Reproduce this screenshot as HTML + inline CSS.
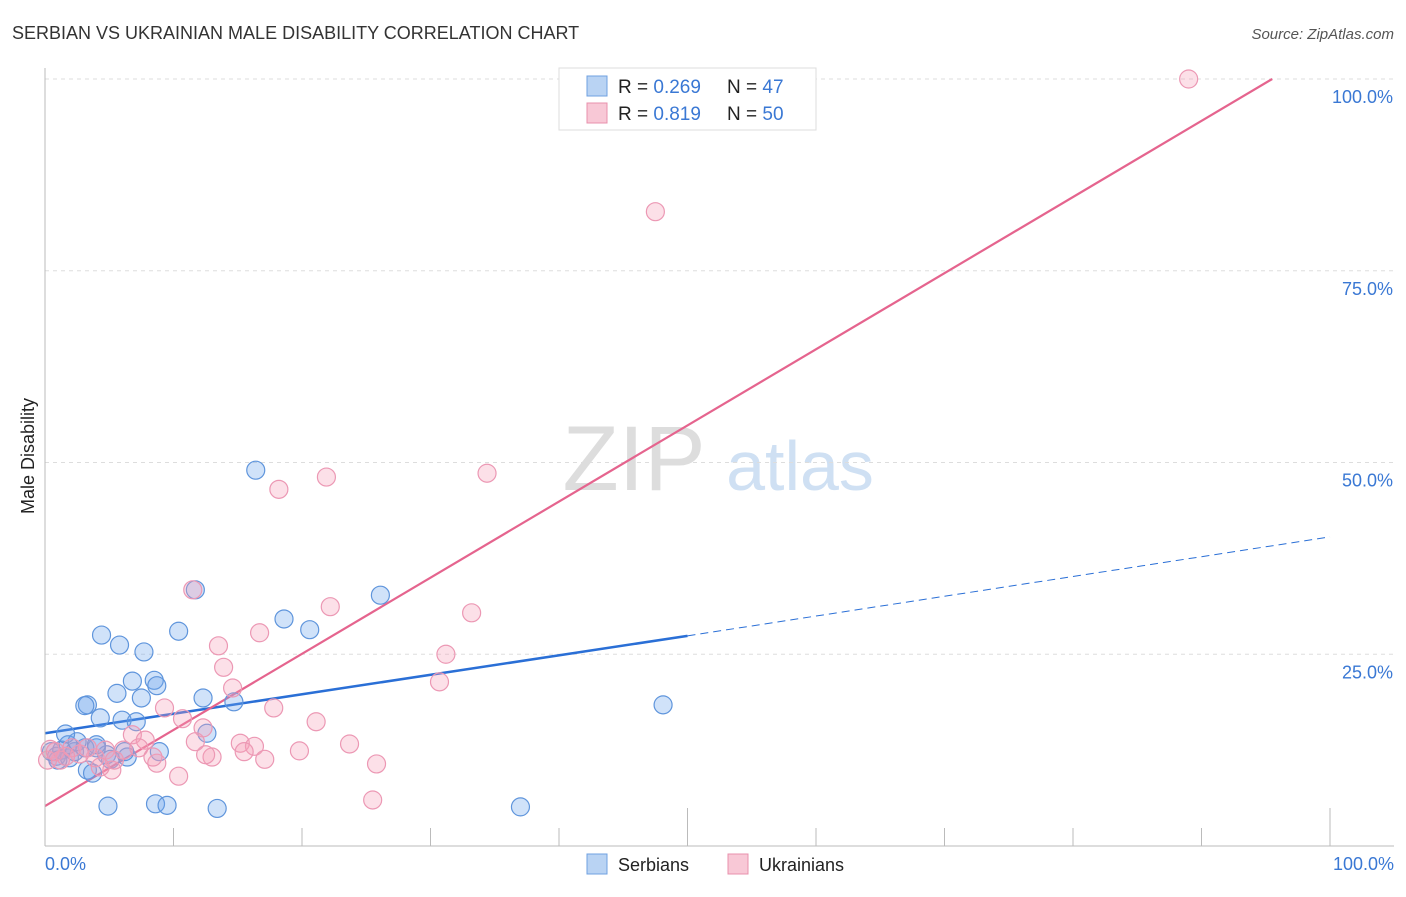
<!DOCTYPE html>
<html><head><meta charset="utf-8"><style>
body{margin:0;background:#fff;font-family:"Liberation Sans",sans-serif}
svg text{font-family:"Liberation Sans",sans-serif}
</style></head><body>
<svg id="c" width="1406" height="892" xmlns="http://www.w3.org/2000/svg">
<text x="12" y="39" font-size="18" fill="#333">SERBIAN VS UKRAINIAN MALE DISABILITY CORRELATION CHART</text>
<text x="1394" y="39" font-size="15" fill="#555" font-style="italic" text-anchor="end">Source: ZipAtlas.com</text>
<text x="34" y="456" font-size="18" fill="#222" transform="rotate(-90 34 456)" text-anchor="middle">Male Disability</text>
<g><text x="634" y="490" font-size="92" fill="#ddd" font-family="Liberation Serif" text-anchor="middle">ZIP</text><text x="800" y="490" font-size="70" fill="#cfe0f3" text-anchor="middle">atlas</text></g>
<g id="grid"></g><g id="ticks"></g><g id="lines"></g><g id="pts"></g>
<line x1="45" y1="68" x2="45" y2="846" stroke="#bbb"/>
<line x1="45" y1="846" x2="1394" y2="846" stroke="#bbb"/>
<text x="45" y="870" font-size="18" fill="#3a78d4">0.0%</text>
<text x="1394" y="870" font-size="18" fill="#3a78d4" text-anchor="end">100.0%</text>
<g>
<rect x="559" y="68" width="257" height="62" fill="#fff" stroke="#ddd"/>
<rect x="587" y="76" width="20" height="20" fill="#b9d3f3" stroke="#6fa0e0"/>
<rect x="587" y="103" width="20" height="20" fill="#f8c8d6" stroke="#e890ac"/>
<text x="618" y="93" font-size="19" fill="#222">R = <tspan fill="#3a78d4">0.269</tspan><tspan x="727">N = </tspan><tspan fill="#3a78d4">47</tspan></text>
<text x="618" y="120" font-size="19" fill="#222">R = <tspan fill="#3a78d4"> 0.819</tspan><tspan x="727">N = </tspan><tspan fill="#3a78d4">50</tspan></text>
</g>
<g>
<rect x="587" y="854" width="20" height="20" fill="#b9d3f3" stroke="#6fa0e0"/>
<text x="618" y="871" font-size="18" fill="#222">Serbians</text>
<rect x="728" y="854" width="20" height="20" fill="#f8c8d6" stroke="#e890ac"/>
<text x="759" y="871" font-size="18" fill="#222">Ukrainians</text>
</g>
</svg>
<script>
const yTicks=[25,50,75,100];
const yTickLabels=["25.0%","50.0%","75.0%","100.0%"];
const xTicks=[10,20,30,40,50,60,70,80,90,100];
const serbX=[0.5,0.9,1.3,1.9,2.3,1.0,3.1,1.8,2.5,3.3,3.7,4.0,4.4,4.3,3.3,3.1,4.8,5.6,5.8,6.0,6.4,6.8,7.1,7.5,7.7,8.5,8.7,8.9,10.4,12.3,12.6,14.7,16.4,18.6,11.7,20.6,26.1,48.1,4.9,8.6,9.5,13.4,37.0,1.6,4.0,5.1,6.2];
const serbY=[12.3,11.7,12.5,11.5,12.3,11.2,12.8,13.2,13.6,9.9,9.5,12.8,27.5,16.7,18.4,18.3,11.9,19.9,26.2,16.4,11.6,21.5,16.2,19.3,25.3,21.6,20.9,12.3,28.0,19.3,14.7,18.8,49.0,29.6,33.4,28.2,32.7,18.4,5.2,5.5,5.3,4.9,5.1,14.6,13.2,11.3,12.3];
const ukrX=[89.0,47.5,34.4,21.9,18.2,11.5,22.2,33.2,13.5,16.7,31.2,30.7,13.9,14.6,17.8,9.3,10.7,21.1,12.3,6.8,7.8,11.7,15.2,16.3,23.7,19.8,13.0,15.5,17.1,8.7,6.1,7.3,5.2,10.4,25.8,25.5,3.9,2.7,1.2,0.4,0.2,2.1,4.7,3.3,8.4,5.4,1.6,4.3,12.5,0.8];
const ukrY=[100,82.7,48.6,48.1,46.5,33.4,31.2,30.4,26.1,27.8,25.0,21.4,23.3,20.6,18.0,18.0,16.6,16.2,15.4,14.5,13.8,13.6,13.4,13.0,13.3,12.4,11.6,12.3,11.3,10.8,12.5,12.8,9.9,9.1,10.7,6.0,11.5,12.0,11.2,12.6,11.2,12.8,12.5,12.8,11.6,11.2,11.7,10.3,11.9,12.3];
const serbTrend=[14.7,27.4,40.3];
const ukrTrend=[5.2,100];
const sx=v=>45+v*12.85, sy=v=>846-v*7.67;
const NS="http://www.w3.org/2000/svg";
function mk(tag,attrs,parent){const e=document.createElementNS(NS,tag);for(const k in attrs)e.setAttribute(k,attrs[k]);document.getElementById(parent).appendChild(e);return e;}
yTicks.forEach((t,i)=>{
 const l=mk('line',{x1:45,x2:1394,y1:sy(t),y2:sy(t),stroke:'#ddd','stroke-dasharray':'4,4'},'grid');
 
 
 const tx=mk('text',{x:1393,y:sy(t)+24,'font-size':18,fill:'#3a78d4','text-anchor':'end'},'grid');
 tx.textContent=yTickLabels[i];
 
 
});
xTicks.forEach(t=>{
 const tall=(t===50||t===100);
 const l=mk('line',{x1:sx(t),x2:sx(t),y1:tall?808:828,y2:846,stroke:'#bbb'},'ticks');
 
 
});
let a=mk('line',{x1:sx(0),y1:sy(serbTrend[0]),x2:sx(50),y2:sy(serbTrend[1]),stroke:'#2a6fd6','stroke-width':2.5},'lines');


a=mk('line',{x1:sx(50),y1:sy(serbTrend[1]),x2:sx(100),y2:sy(serbTrend[2]),stroke:'#2a6fd6','stroke-width':1,'stroke-dasharray':'8,5'},'lines');


const ux=(100-ukrTrend[0])/((ukrTrend[1]-ukrTrend[0])/ (95.5));
a=mk('line',{x1:sx(0),y1:sy(ukrTrend[0]),x2:sx(95.5),y2:sy(ukrTrend[1]),stroke:'#e5648e','stroke-width':2.2},'lines');


serbX.forEach((x,i)=>{
 const c=mk('circle',{cx:sx(x),cy:sy(serbY[i]),r:9,fill:'rgba(110,165,235,0.32)',stroke:'#5f95dc','stroke-width':1.2},'pts');
 
 
});
ukrX.forEach((x,i)=>{
 const c=mk('circle',{cx:sx(x),cy:sy(ukrY[i]),r:9,fill:'rgba(245,160,185,0.32)',stroke:'#ec98b4','stroke-width':1.2},'pts');
 
 
});
</script>
</body></html>
